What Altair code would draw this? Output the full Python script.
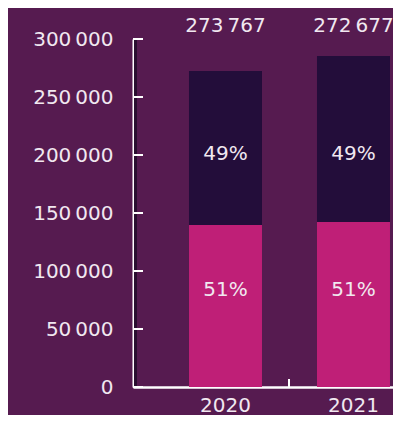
import altair as alt
import pandas as pd

years = ["2020", "2021"]
pink_values = [139700, 142200]
dark_values = [132700, 143100]
pink_pct = ["51%", "51%"]
dark_pct = ["49%", "49%"]
total_labels = ["273\u202f767", "272\u202f677"]
y_ticks = [0, 50000, 100000, 150000, 200000, 250000, 300000]
divider_years = ["2021"]

BG = "#561b50"
PINK = "#bf1f77"
DARK = "#230d3a"
TXT = "#f1e8f0"
FONT = "DejaVu Sans"
FS = 20

rows = []
for i, yr in enumerate(years):
    rows.append({"year": yr, "segment": "pink", "value": pink_values[i], "pct": pink_pct[i], "order": 0})
    rows.append({"year": yr, "segment": "dark", "value": dark_values[i], "pct": dark_pct[i], "order": 1})
df = pd.DataFrame(rows)
tot = pd.DataFrame({"year": years, "label": total_labels})
ticks_df = pd.DataFrame({"t": y_ticks})
div_df = pd.DataFrame({"year": divider_years})

xscale = alt.Scale(domain=years, paddingInner=0.4297, paddingOuter=0.2305, align=0.949)
yscale = alt.Scale(domain=[0, 300000])

bars = alt.Chart(df).mark_bar().encode(
    x=alt.X("year:N", scale=xscale, sort=years, title=None,
            axis=alt.Axis(labelAngle=0, ticks=False, tickSize=0, labelPadding=8,
                          labelFontSize=FS, labelColor=TXT, labelFont=FONT,
                          domainColor="white", domainWidth=2.5, grid=False)),
    y=alt.Y("value:Q", scale=yscale, stack="zero", title=None,
            axis=alt.Axis(values=y_ticks, ticks=False, tickSize=0, labelPadding=20,
                          labelFontSize=FS, labelColor=TXT, labelFont=FONT,
                          domainColor="white", domainWidth=2, grid=False,
                          labelExpr="replace(format(datum.value, ','), ',', '\u202f')")),
    color=alt.Color("segment:N", scale=alt.Scale(domain=["pink", "dark"], range=[PINK, DARK]), legend=None),
    order=alt.Order("order:Q"),
)

shadow = alt.Chart(ticks_df).mark_rule(color="#2a0f30", strokeWidth=2).encode(
    x=alt.value(2.5), y=alt.value(0), y2=alt.value(348)
)

yticks = alt.Chart(ticks_df).mark_rule(color="white", strokeWidth=2).encode(
    y=alt.Y("t:Q", scale=yscale), x=alt.value(0), x2=alt.value(10)
)

xtick = alt.Chart(div_df).mark_rule(color="white", strokeWidth=2, xOffset=-28).encode(
    x=alt.X("year:N", scale=xscale, sort=years, bandPosition=0),
    y=alt.value(340), y2=alt.value(348)
)

top_text = alt.Chart(tot).mark_text(fontSize=FS, font=FONT, color=TXT, baseline="alphabetic").encode(
    x=alt.X("year:N", scale=xscale, sort=years, bandPosition=0.5),
    y=alt.value(-7),
    text="label:N",
)

dark_text = alt.Chart(df).transform_filter("datum.segment == 'dark'").mark_text(
    fontSize=FS, font=FONT, color=TXT, baseline="middle").encode(
    x=alt.X("year:N", scale=xscale, sort=years, bandPosition=0.5),
    y=alt.value(115),
    text="pct:N",
)
pink_text = alt.Chart(df).transform_filter("datum.segment == 'pink'").mark_text(
    fontSize=FS, font=FONT, color=TXT, baseline="middle").encode(
    x=alt.X("year:N", scale=xscale, sort=years, bandPosition=0.5),
    y=alt.value(251),
    text="pct:N",
)

chart = alt.layer(bars, shadow, yticks, xtick, top_text, dark_text, pink_text).properties(
    width=260, height=348,
    background=BG,
    padding={"left": 125, "top": 31, "right": 0, "bottom": 28},
    autosize=alt.AutoSizeParams(type="none"),
).configure_view(stroke=None)

chart.save("out.html", embed_options={"renderer": "svg", "actions": False})
